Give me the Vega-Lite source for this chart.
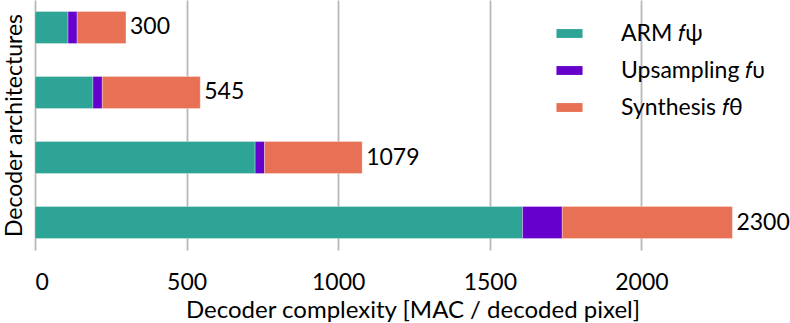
{
  "$schema": "https://vega.github.io/schema/vega-lite/v6.json",
  "autosize": {"type": "none"},
  "padding": {"left": 35, "top": 0, "right": 0, "bottom": 73},
  "width": 755,
  "height": 250,
  "background": "white",
  "config": {
    "font": "Lato",
    "view": {"stroke": null}
  },
  "data": {
    "values": [
      {"arch": "A", "part": "ARM", "idx": 0, "value": 109},
      {"arch": "A", "part": "Upsampling", "idx": 1, "value": 30},
      {"arch": "A", "part": "Synthesis", "idx": 2, "value": 161},
      {"arch": "B", "part": "ARM", "idx": 0, "value": 191},
      {"arch": "B", "part": "Upsampling", "idx": 1, "value": 31},
      {"arch": "B", "part": "Synthesis", "idx": 2, "value": 323},
      {"arch": "C", "part": "ARM", "idx": 0, "value": 726},
      {"arch": "C", "part": "Upsampling", "idx": 1, "value": 31},
      {"arch": "C", "part": "Synthesis", "idx": 2, "value": 322},
      {"arch": "D", "part": "ARM", "idx": 0, "value": 1608},
      {"arch": "D", "part": "Upsampling", "idx": 1, "value": 131},
      {"arch": "D", "part": "Synthesis", "idx": 2, "value": 561}
    ]
  },
  "encoding": {
    "y": {
      "field": "arch", "type": "nominal", "sort": ["A", "B", "C", "D"],
      "scale": {"paddingInner": 0.508, "paddingOuter": 0.177},
      "axis": {
        "title": "Decoder architectures", "labels": false, "ticks": false, "domain": false, "grid": false,
        "titleFontSize": 23, "titleFontWeight": "normal", "titleColor": "black", "titlePadding": 14,
        "titleBaseline": "alphabetic"
      }
    }
  },
  "layer": [
    {
      "mark": {"type": "bar", "stroke": "white", "strokeWidth": 0.5, "strokeOpacity": 0.6},
      "encoding": {
        "x": {
          "field": "value", "type": "quantitative", "aggregate": "sum", "stack": "zero",
          "scale": {"domain": [0, 2490], "nice": false},
          "axis": {
            "title": "Decoder complexity [MAC / decoded pixel]", "values": [0, 500, 1000, 1500, 2000],
            "format": "d",
            "grid": true, "gridColor": "#b8b8b8", "gridWidth": 1.8, "gridOpacity": 1,
            "domain": false, "ticks": false, "tickSize": 0,
            "labelFontSize": 23, "labelColor": "black", "labelPadding": 21,
            "titleFontSize": 24, "titleFontWeight": "normal", "titleColor": "black", "titlePadding": 4
          }
        },
        "color": {
          "field": "part", "type": "nominal",
          "scale": {"domain": ["ARM", "Upsampling", "Synthesis"], "range": ["#2ea496", "#6600cc", "#e87054"]},
          "legend": {
            "title": null, "orient": "none", "legendX": 521, "legendY": 20,
            "labelExpr": "datum.label == 'ARM' ? 'ARM 𝑓ψ' : datum.label == 'Upsampling' ? 'Upsampling 𝑓υ' : 'Synthesis 𝑓θ'",
            "symbolType": "M-1,-0.34H1V0.34H-1Z", "symbolSize": 680, "symbolStrokeWidth": 0,
            "labelFontSize": 23, "labelColor": "black", "labelOffset": 38, "rowPadding": 11
          }
        },
        "order": {"field": "idx", "type": "quantitative"}
      }
    },
    {
      "transform": [{"aggregate": [{"op": "sum", "field": "value", "as": "total"}], "groupby": ["arch"]}],
      "mark": {"type": "text", "align": "left", "baseline": "middle", "dx": 4, "fontSize": 23, "color": "black"},
      "encoding": {
        "x": {"field": "total", "type": "quantitative"},
        "text": {"field": "total", "type": "quantitative"}
      }
    }
  ]
}
